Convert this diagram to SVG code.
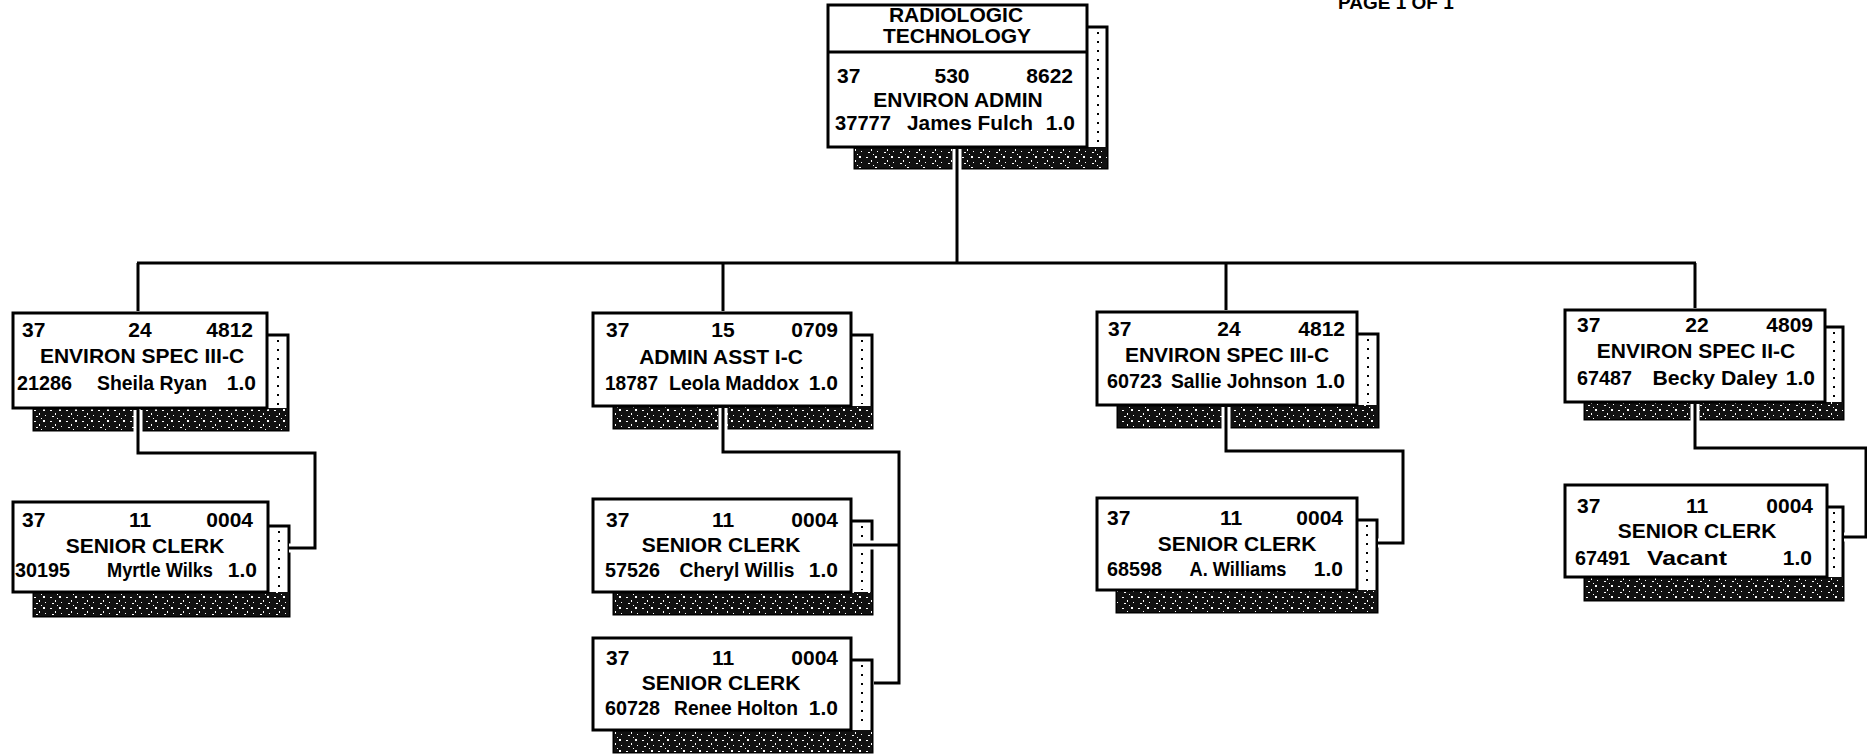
<svg xmlns="http://www.w3.org/2000/svg" width="1867" height="754" viewBox="0 0 1867 754">
<defs>
<pattern id="noise" width="16" height="11" patternUnits="userSpaceOnUse">
<rect width="16" height="11" fill="#111"/>
<rect x="2" y="3" width="2" height="1" fill="#fff"/>
<rect x="7" y="6" width="1" height="2" fill="#fff"/>
<rect x="11" y="2" width="2" height="2" fill="#fff"/>
<rect x="13" y="8" width="1" height="1" fill="#fff"/>
<rect x="4" y="9" width="2" height="1" fill="#fff"/>
<rect x="9" y="0" width="1" height="1" fill="#fff"/>
</pattern>
<style>
.box{fill:#fff;stroke:#000;stroke-width:3}
.sh{fill:#fff;stroke:#000;stroke-width:3}
.band{fill:url(#noise)}
.dot{fill:none;stroke:#000;stroke-width:2;stroke-dasharray:2 7}
.t{font-family:"Liberation Sans",Arial,sans-serif;font-weight:bold;font-size:21px;fill:#000}
.m{text-anchor:middle}
.e{text-anchor:end}
.c{fill:none;stroke:#000;stroke-width:3}
.cw{fill:none;stroke:#fff;stroke-width:9}
</style>
</defs>
<rect width="1867" height="754" fill="#fff"/>
<text class="t" x="1338" y="9" style="font-size:19px">PAGE 1 OF 1</text>

<g id="n-top">
<rect class="sh" x="855" y="27" width="252" height="141"/>
<rect class="band" x="855" y="147" width="252" height="21"/>
<line class="dot" x1="1098" y1="32" x2="1098" y2="145"/>
<rect class="box" x="828" y="5" width="259" height="142"/>
<line class="c" x1="828" y1="52" x2="1087" y2="52"/>
<text class="t m" x="956" y="22">RADIOLOGIC</text>
<text class="t m" x="957" y="43">TECHNOLOGY</text>
<text class="t" x="837" y="83">37</text>
<text class="t m" x="952" y="83">530</text>
<text class="t e" x="1073" y="83">8622</text>
<text class="t m" x="958" y="107">ENVIRON ADMIN</text>
<text class="t" x="835" y="130" textLength="56" lengthAdjust="spacingAndGlyphs">37777</text>
<text class="t m" x="970" y="130" textLength="126" lengthAdjust="spacingAndGlyphs">James Fulch</text>
<text class="t e" x="1075" y="130">1.0</text>
</g>

<g id="n-b1">
<rect class="sh" x="34" y="335" width="254" height="95"/>
<rect class="band" x="34" y="408" width="254" height="22"/>
<line class="dot" x1="278" y1="340" x2="278" y2="406"/>
<rect class="box" x="13" y="313" width="254" height="95"/>
<text class="t" x="22" y="337">37</text>
<text class="t m" x="140" y="337">24</text>
<text class="t e" x="253" y="337">4812</text>
<text class="t m" x="142" y="363">ENVIRON SPEC III-C</text>
<text class="t" x="17" y="390" textLength="55" lengthAdjust="spacingAndGlyphs">21286</text>
<text class="t m" x="152" y="390" textLength="110" lengthAdjust="spacingAndGlyphs">Sheila Ryan</text>
<text class="t e" x="256" y="390">1.0</text>
</g>

<g id="n-b2">
<rect class="sh" x="614" y="335" width="258" height="93"/>
<rect class="band" x="614" y="406" width="258" height="22"/>
<line class="dot" x1="862" y1="340" x2="862" y2="404"/>
<rect class="box" x="593" y="313" width="258" height="93"/>
<text class="t" x="606" y="337">37</text>
<text class="t m" x="723" y="337">15</text>
<text class="t e" x="838" y="337">0709</text>
<text class="t m" x="721" y="364">ADMIN ASST I-C</text>
<text class="t" x="605" y="390" textLength="53" lengthAdjust="spacingAndGlyphs">18787</text>
<text class="t m" x="734" y="390" textLength="130" lengthAdjust="spacingAndGlyphs">Leola Maddox</text>
<text class="t e" x="838" y="390">1.0</text>
</g>

<g id="n-b3">
<rect class="sh" x="1118" y="334" width="260" height="93"/>
<rect class="band" x="1118" y="405" width="260" height="22"/>
<line class="dot" x1="1368" y1="339" x2="1368" y2="403"/>
<rect class="box" x="1097" y="312" width="260" height="93"/>
<text class="t" x="1108" y="336">37</text>
<text class="t m" x="1229" y="336">24</text>
<text class="t e" x="1345" y="336">4812</text>
<text class="t m" x="1227" y="362">ENVIRON SPEC III-C</text>
<text class="t" x="1107" y="388" textLength="55" lengthAdjust="spacingAndGlyphs">60723</text>
<text class="t m" x="1239" y="388" textLength="136" lengthAdjust="spacingAndGlyphs">Sallie Johnson</text>
<text class="t e" x="1345" y="388">1.0</text>
</g>

<g id="n-b4">
<rect class="sh" x="1585" y="327" width="258" height="92"/>
<rect class="band" x="1585" y="402" width="258" height="17"/>
<line class="dot" x1="1834" y1="332" x2="1834" y2="400"/>
<rect class="box" x="1565" y="310" width="260" height="92"/>
<text class="t" x="1577" y="332">37</text>
<text class="t m" x="1697" y="332">22</text>
<text class="t e" x="1813" y="332">4809</text>
<text class="t m" x="1696" y="358">ENVIRON SPEC II-C</text>
<text class="t" x="1577" y="385" textLength="55" lengthAdjust="spacingAndGlyphs">67487</text>
<text class="t m" x="1715" y="385" textLength="125" lengthAdjust="spacingAndGlyphs">Becky Daley</text>
<text class="t e" x="1815" y="385">1.0</text>
</g>

<g id="n-c1">
<rect class="sh" x="34" y="526" width="255" height="90"/>
<rect class="band" x="34" y="592" width="255" height="24"/>
<line class="dot" x1="279" y1="531" x2="279" y2="590"/>
<rect class="box" x="13" y="502" width="255" height="90"/>
<text class="t" x="22" y="527">37</text>
<text class="t m" x="140" y="527">11</text>
<text class="t e" x="253" y="527">0004</text>
<text class="t m" x="145" y="553">SENIOR CLERK</text>
<text class="t" x="15" y="577" textLength="55" lengthAdjust="spacingAndGlyphs">30195</text>
<text class="t m" x="160" y="577" textLength="106" lengthAdjust="spacingAndGlyphs">Myrtle Wilks</text>
<text class="t e" x="257" y="577">1.0</text>
</g>

<g id="n-c2a">
<rect class="sh" x="614" y="521" width="258" height="93"/>
<rect class="band" x="614" y="592" width="258" height="22"/>
<line class="dot" x1="862" y1="526" x2="862" y2="590"/>
<rect class="box" x="593" y="499" width="258" height="93"/>
<text class="t" x="606" y="527">37</text>
<text class="t m" x="723" y="527">11</text>
<text class="t e" x="838" y="527">0004</text>
<text class="t m" x="721" y="552">SENIOR CLERK</text>
<text class="t" x="605" y="577" textLength="55" lengthAdjust="spacingAndGlyphs">57526</text>
<text class="t m" x="737" y="577" textLength="115" lengthAdjust="spacingAndGlyphs">Cheryl Willis</text>
<text class="t e" x="838" y="577">1.0</text>
</g>

<g id="n-c2b">
<rect class="sh" x="614" y="660" width="258" height="92"/>
<rect class="band" x="614" y="730" width="258" height="22"/>
<line class="dot" x1="862" y1="665" x2="862" y2="728"/>
<rect class="box" x="593" y="638" width="258" height="92"/>
<text class="t" x="606" y="665">37</text>
<text class="t m" x="723" y="665">11</text>
<text class="t e" x="838" y="665">0004</text>
<text class="t m" x="721" y="690">SENIOR CLERK</text>
<text class="t" x="605" y="715" textLength="55" lengthAdjust="spacingAndGlyphs">60728</text>
<text class="t m" x="736" y="715" textLength="124" lengthAdjust="spacingAndGlyphs">Renee Holton</text>
<text class="t e" x="838" y="715">1.0</text>
</g>

<g id="n-c3">
<rect class="sh" x="1117" y="520" width="260" height="92"/>
<rect class="band" x="1117" y="590" width="260" height="22"/>
<line class="dot" x1="1367" y1="525" x2="1367" y2="588"/>
<rect class="box" x="1097" y="498" width="260" height="92"/>
<text class="t" x="1107" y="525">37</text>
<text class="t m" x="1231" y="525">11</text>
<text class="t e" x="1343" y="525">0004</text>
<text class="t m" x="1237" y="551">SENIOR CLERK</text>
<text class="t" x="1107" y="576" textLength="55" lengthAdjust="spacingAndGlyphs">68598</text>
<text class="t m" x="1238" y="576" textLength="97" lengthAdjust="spacingAndGlyphs">A. Williams</text>
<text class="t e" x="1343" y="576">1.0</text>
</g>

<g id="n-c4">
<rect class="sh" x="1585" y="507" width="258" height="93"/>
<rect class="band" x="1585" y="577" width="258" height="23"/>
<line class="dot" x1="1834" y1="512" x2="1834" y2="575"/>
<rect class="box" x="1565" y="485" width="262" height="92"/>
<text class="t" x="1577" y="513">37</text>
<text class="t m" x="1697" y="513">11</text>
<text class="t e" x="1813" y="513">0004</text>
<text class="t m" x="1697" y="538">SENIOR CLERK</text>
<text class="t" x="1575" y="565" textLength="55" lengthAdjust="spacingAndGlyphs">67491</text>
<text class="t m" x="1687" y="565" textLength="80" lengthAdjust="spacingAndGlyphs">Vacant</text>
<text class="t e" x="1812" y="565">1.0</text>
</g>

<g id="connectors">
<path class="cw" d="M957 149 V263 M138 263 H1695 M138 263 V311 M723 263 V311 M1226 263 V310 M1695 263 V308"/>
<path class="c" d="M957 149 V263 M137 263 H1696 M138 263 V311 M723 263 V311 M1226 263 V310 M1695 263 V308"/>
<path class="cw" d="M138 410 V453 H315 V548 H289 M723 408 V452 H899 V683 H874 M899 545 H853 M1226 407 V451 H1403 V543 H1378 M1695 404 V448 H1866 V537 H1844"/>
<path class="c" d="M138 410 V453 H315 V548 H289 M723 408 V452 H899 V683 H874 M899 545 H853 M1226 407 V451 H1403 V543 H1378 M1695 404 V448 H1866 V537 H1844"/>
</g>
</svg>
